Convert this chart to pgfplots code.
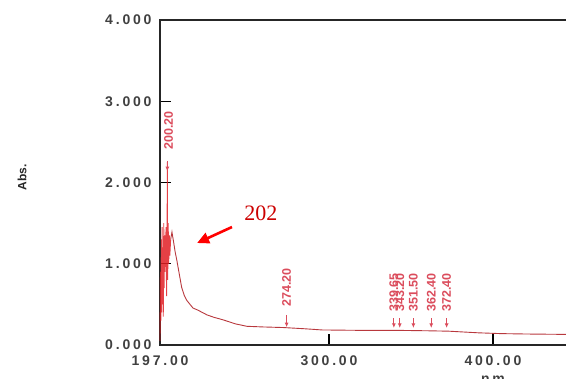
\documentclass[border=0pt]{standalone}
\usepackage{fontspec}
\setmainfont{Liberation Sans}
\newfontfamily\tickfont[LetterSpace=20]{Liberation Sans}
\newfontfamily\seriffont{Liberation Serif}
\usepackage{pgfplots}
\pgfplotsset{compat=1.18}
\usepackage{pgfplotstable}
\usetikzlibrary{arrows.meta}
\definecolor{noisered}{rgb}{0.88,0.12,0.14}
\definecolor{curvered}{rgb}{0.72,0.22,0.24}
\definecolor{labelred}{rgb}{0.86,0.30,0.36}

\pgfplotstableread{
x y
197.0 0.05
197.3 0.9
197.5 0.3
197.8 1.3
198.0 0.4
198.3 1.45
198.5 0.5
198.8 1.2
199.0 0.35
199.3 1.5
199.5 0.7
199.8 1.35
200.0 0.9
200.4 1.2
200.7 1.45
201.0 0.6
201.3 1.3
201.5 2.25
201.7 0.8
202.0 1.5
202.3 1.0
202.7 1.35
203.0 1.1
203.5 1.3
}\noisedata

\pgfplotstableread{
x y
203.5 1.3
204.3 1.39
205.2 1.28
206.2 1.15
207.2 1.05
208.7 0.88
210.2 0.71
211.8 0.61
213.3 0.55
217.1 0.455
220.0 0.43
225.7 0.37
230.0 0.34
235.4 0.31
243.0 0.26
250.0 0.23
260.0 0.222
272.0 0.215
285.0 0.20
296.0 0.185
320.0 0.18
342.0 0.18
360.0 0.175
373.0 0.17
382.0 0.16
391.0 0.15
405.0 0.14
421.0 0.135
447.0 0.13
}\curvedata

\pgfplotstableread{
x y v
201.5 2.26 -0.12
274.2 0.37 -0.15
339.6 0.33 -0.12
343.2 0.33 -0.12
351.5 0.33 -0.12
362.4 0.33 -0.12
371.8 0.33 -0.12
}\arrowdata

\pgfplotstableread{
x y label
202.3 2.40 200.20
274.2 0.47 274.20
339.6 0.41 339.65
343.2 0.41 343.20
351.5 0.41 351.50
362.4 0.41 362.40
371.8 0.41 372.40
}\labeldata

\begin{document}
\begin{tikzpicture}
\begin{axis}[
  scale only axis,
  width=410pt, height=325pt,
  xmin=197, xmax=447,
  ymin=0, ymax=4,
  clip=false,
  xtick={197,300,400},
  xticklabels={197.00,300.00,400.00},
  ytick={0,1,2,3,4},
  yticklabels={0.000,1.000,2.000,3.000,4.000},
  xtick pos=bottom, ytick pos=left,
  tick align=inside,
  major tick length=11pt,
  every tick/.style={black, line width=1.2pt},
  axis line style={black!85, line width=1.6pt},
  ticklabel style={font=\tickfont\bfseries\fontsize{14}{15}\selectfont, text=black!75},
  yticklabel style={xshift=-5pt},
  xticklabel style={yshift=-7pt},
]
\addplot[noisered, line width=0.9pt, opacity=0.85] table {\noisedata};
\addplot[curvered, line width=0.9pt] table {\curvedata};
\addplot[labelred, line width=1pt, -{Latex[length=4.5pt,width=4pt]},
  quiver={u=0, v=\thisrow{v}}] table {\arrowdata};
\addplot[draw=none, mark=none, nodes near coords, point meta=explicit symbolic,
  nodes near coords style={rotate=90, anchor=west, inner sep=0pt,
    font=\bfseries\fontsize{12.5}{13}\selectfont, text=labelred}]
  table[meta=label] {\labeldata};
\draw[red, line width=2.6pt, -{Triangle[length=12pt,width=11pt]}]
  (axis cs:240.9,1.452) -- (axis cs:219.6,1.255);
\node[text=red!80!black, font=\seriffont\fontsize{22}{24}\selectfont]
  at (axis cs:258.5,1.62) {202};
\node[rotate=90, font=\bfseries\fontsize{12}{13}\selectfont, text=black!85]
  at (axis cs:112.9,2.06) {Abs.};
\node[anchor=north, font=\tickfont\bfseries\fontsize{14}{15}\selectfont, text=black!75]
  at (axis cs:400,-0.34) {nm};
\end{axis}
\pgfresetboundingbox
\useasboundingbox (-160pt,-34pt) rectangle (406pt,345pt);
\end{tikzpicture}
\end{document}
